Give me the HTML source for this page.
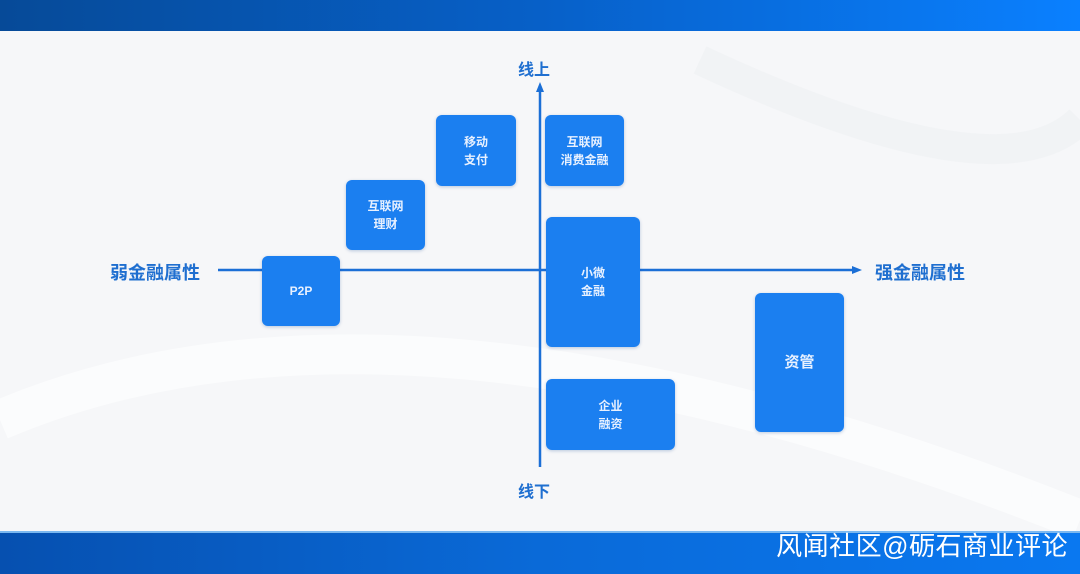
<!DOCTYPE html>
<html><head><meta charset="utf-8"><style>
body{margin:0;width:1080px;height:574px;overflow:hidden;position:relative;background:#f6f7f9;font-family:"Liberation Sans","Noto Sans CJK SC",sans-serif}
.top{position:absolute;left:0;top:0;width:1080px;height:31px;background:linear-gradient(90deg,#064a98 0%,#0760c8 50%,#0a80ff 100%)}
.bot{position:absolute;left:0;top:531px;width:1080px;height:43px;background:linear-gradient(90deg,#0650b0 0%,#0a6ad8 50%,#0a78f0 100%);border-top:2px solid #7bb8f0;box-sizing:border-box}
.wm{position:absolute;right:12px;top:531px;color:#fff;font-size:26px;line-height:30px;letter-spacing:0.5px}
.b{position:absolute;background:#1b7ff0;border-radius:6px;color:#e8f1ff;font-size:12px;font-weight:bold;display:flex;align-items:center;justify-content:center;text-align:center;line-height:18px;box-shadow:0 1px 3px rgba(0,60,140,.25)}
.l{position:absolute;color:#1f6fd0;font-weight:bold;font-size:16px}
</style></head><body>
<div class="top"></div>
<svg width="1080" height="574" style="position:absolute;left:0;top:0">
<path d="M0 420 Q400 250 1080 520" stroke="#ffffff" stroke-width="40" fill="none" opacity=".6"/>
<path d="M700 60 Q1000 200 1080 120" stroke="#eceef1" stroke-width="30" fill="none" opacity=".4"/>
<line x1="540" y1="88" x2="540" y2="467" stroke="#1b6fd6" stroke-width="2.5"/>
<polygon points="540,82 536,92 544,92" fill="#1b6fd6"/>
<line x1="218" y1="270" x2="855" y2="270" stroke="#1b6fd6" stroke-width="2.5"/>
<polygon points="862,270 852,266 852,274" fill="#1b6fd6"/>
</svg>
<div class="l" style="left:518px;top:56px">线上</div>
<div class="l" style="left:518px;top:478px">线下</div>
<div class="l" style="left:110px;top:259px;font-size:18px">弱金融属性</div>
<div class="l" style="left:875px;top:259px;font-size:18px">强金融属性</div>
<div class="b" style="left:436px;top:115px;width:80px;height:71px">移动<br>支付</div>
<div class="b" style="left:545px;top:115px;width:79px;height:71px">互联网<br>消费金融</div>
<div class="b" style="left:346px;top:180px;width:79px;height:70px">互联网<br>理财</div>
<div class="b" style="left:262px;top:256px;width:78px;height:70px">P2P</div>
<div class="b" style="left:546px;top:217px;width:94px;height:130px">小微<br>金融</div>
<div class="b" style="left:755px;top:293px;width:89px;height:139px;font-size:15px">资管</div>
<div class="b" style="left:546px;top:379px;width:129px;height:71px">企业<br>融资</div>
<div class="bot"></div>
<div class="wm">风闻社区@砺石商业评论</div>
</body></html>
